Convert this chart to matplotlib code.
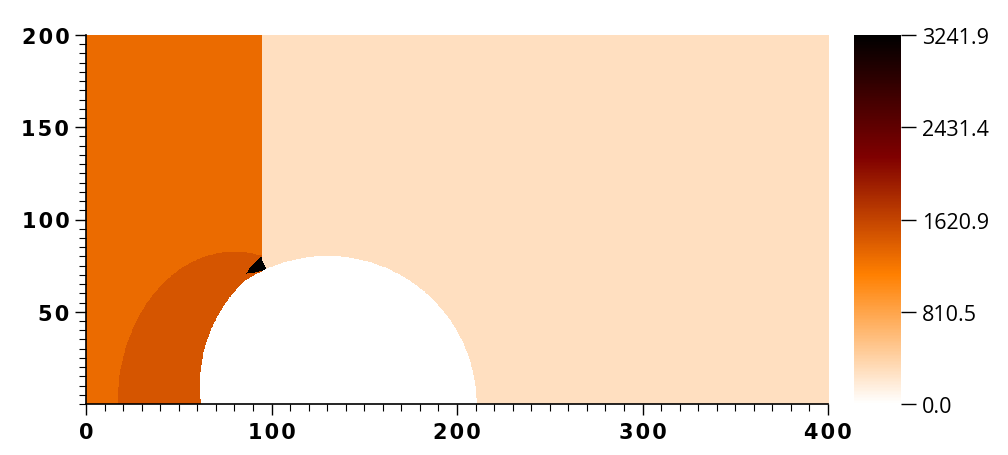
import numpy as np
import matplotlib
matplotlib.use("Agg")
import matplotlib.pyplot as plt
from matplotlib.colors import LinearSegmentedColormap
from matplotlib.path import Path

# field levels
vmin, vmax = 0.0, 3241.9
cbar_ticks = [0.0, 810.5, 1620.9, 2431.4, 3241.9]
pre_shock = 290.0      # right of the incident shock
post_shock = 1296.0    # left of the incident shock
reflected = 1475.0     # inside the reflected (bow) shock
peak = 3241.9          # triple point spot

# shapes (data units)
shock_x = 94.7                       # incident shock position
refl_center = (80.0, 0.0)            # reflected shock ellipse
refl_axes = (63.0, 82.6)
body_a = (130.0, 0.0, 80.2)          # obstacle: inside both circles
body_b = (140.0, 10.0, 78.7)
hot_x = [94.3, 89.3, 86.0, 97.2]     # dark spot near the triple point
hot_y = [79.8, 75.0, 70.5, 72.6]

x_ticks = [0, 100, 200, 300, 400]
y_ticks = [50, 100, 150, 200]

# colormap white -> orange -> dark red -> black
cmap = LinearSegmentedColormap.from_list(
    "wob", [(0.0, (1, 1, 1)), (0.35, (1, 0.5, 0)), (0.67, (0.5, 0, 0)), (1.0, (0, 0, 0))])
cmap.set_bad("white")

# build the field on a grid
nx, ny = 1600, 800
xs = (np.arange(nx) + 0.5) * 400.0 / nx
ys = (np.arange(ny) + 0.5) * 200.0 / ny
X, Y = np.meshgrid(xs, ys)

field = np.where(X < shock_x, post_shock, pre_shock)
in_refl = ((X - refl_center[0]) / refl_axes[0]) ** 2 + ((Y - refl_center[1]) / refl_axes[1]) ** 2 <= 1.0
field = np.where(in_refl & (X < shock_x), reflected, field)

hot = Path(np.column_stack([hot_x, hot_y])).contains_points(
    np.column_stack([X.ravel(), Y.ravel()])).reshape(X.shape)
field = np.where(hot, peak, field)

in_body = (((X - body_a[0]) ** 2 + (Y - body_a[1]) ** 2 <= body_a[2] ** 2)
           & ((X - body_b[0]) ** 2 + (Y - body_b[1]) ** 2 <= body_b[2] ** 2))
field = np.ma.masked_where(in_body, field)

fig = plt.figure(figsize=(10.08, 4.56), dpi=100)
ax = fig.add_axes([86 / 1008, 1 - 405 / 456, 742 / 1008, 369 / 456])
im = ax.imshow(field, origin="lower", extent=[0, 400, 0, 200], cmap=cmap,
               vmin=vmin, vmax=vmax, interpolation="nearest", aspect="auto")
ax.set_xlim(0, 400)
ax.set_ylim(0, 200)

for s in ["top", "right"]:
    ax.spines[s].set_visible(False)
for s in ["left", "bottom"]:
    ax.spines[s].set_linewidth(1.2)


def spaced(v):
    # wide letter spacing like the original axis labels
    return "\u200a".join(str(v))


ax.set_xticks(x_ticks)
ax.set_yticks(y_ticks)
ax.set_xticklabels([spaced(v) for v in x_ticks])
ax.set_yticklabels([spaced(v) for v in y_ticks])
ax.set_xticks(np.arange(0, 401, 10), minor=True)
ax.set_yticks(np.arange(0, 201, 5), minor=True)
ax.tick_params(which="major", length=8, width=1.0, direction="out")
ax.tick_params(which="minor", length=5, width=0.8, direction="out")
ax.tick_params(axis="x", pad=5)
ax.tick_params(axis="y", pad=4)
for lab in ax.get_xticklabels() + ax.get_yticklabels():
    lab.set_fontweight("bold")
    lab.set_fontsize(15)
    lab.set_fontfamily("DejaVu Sans")

cax = fig.add_axes([854 / 1008, 1 - 405 / 456, 47 / 1008, 369 / 456])
cb = fig.colorbar(im, cax=cax)
cb.outline.set_visible(False)
cb.set_ticks(cbar_ticks)
cb.set_ticklabels([f"{t:.1f}" for t in cbar_ticks])
cax.tick_params(length=11, width=1.0, labelsize=15.5, pad=4)
for lab in cax.get_yticklabels():
    lab.set_fontfamily("Open Sans")

fig.savefig("out.png", dpi=100)
